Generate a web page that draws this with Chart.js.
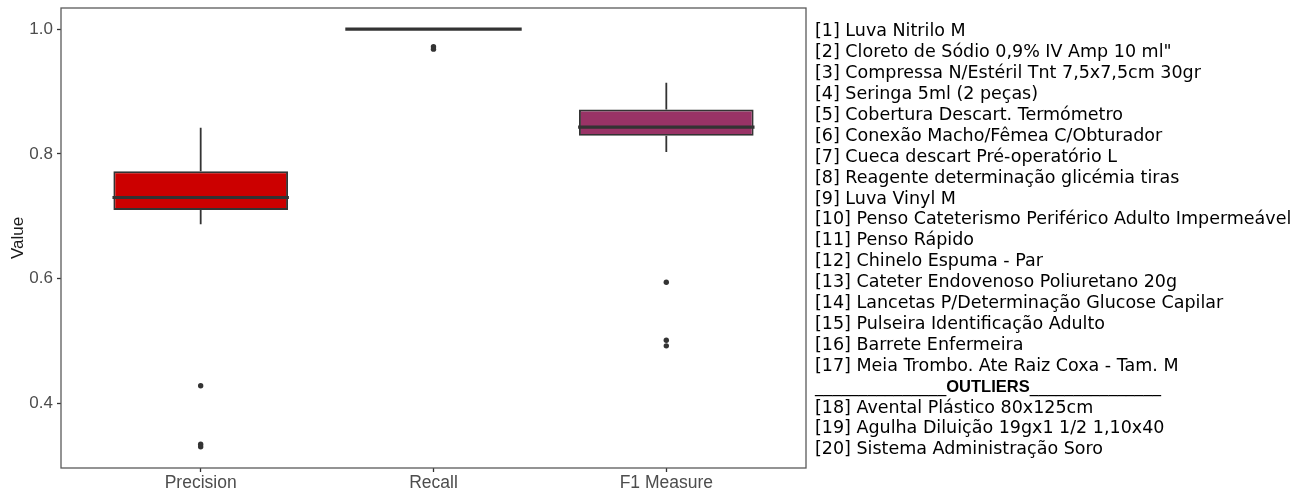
<!DOCTYPE html>
<html>
<head>
<meta charset="utf-8">
<script src="https://cdn.jsdelivr.net/npm/chart.js@4.4.1/dist/chart.umd.min.js"></script>
<style>
  html, body { margin: 0; padding: 0; background: #ffffff; }
  #wrap { width: 1305px; height: 493px; position: relative; }
</style>
</head>
<body>
<div id="wrap"><canvas id="chart"></canvas></div>
<script>
// Box-plot summaries per metric
const categories = ['Precision', 'Recall', 'F1 Measure'];
const whiskerLow = [0.687, 1.0, 0.803];
const q1 = [0.710, 1.0, 0.829];
const median = [0.730, 1.0, 0.843];
const q3 = [0.772, 1.0, 0.871];
const whiskerHigh = [0.842, 1.0, 0.914];
const outliers = [
  [0.428, 0.334, 0.330],
  [0.972, 0.968],
  [0.594, 0.501, 0.492]
];
const boxColors = ['#CC0000', '#2E7D32', '#993366'];
const yTicks = [0.4, 0.6, 0.8, 1.0];

// Item key shown to the right of the panel
const itemLabels = [
  '[1] Luva Nitrilo M',
  '[2] Cloreto de Sódio 0,9% IV Amp 10 ml"',
  '[3] Compressa N/Estéril Tnt 7,5x7,5cm 30gr',
  '[4] Seringa 5ml (2 peças)',
  '[5] Cobertura Descart. Termómetro',
  '[6] Conexão Macho/Fêmea C/Obturador',
  '[7] Cueca descart Pré-operatório L',
  '[8] Reagente determinação glicémia tiras',
  '[9] Luva Vinyl M',
  '[10] Penso Cateterismo Periférico Adulto Impermeável',
  '[11] Penso Rápido',
  '[12] Chinelo Espuma - Par',
  '[13] Cateter Endovenoso Poliuretano 20g',
  '[14] Lancetas P/Determinação Glucose Capilar',
  '[15] Pulseira Identificação Adulto',
  '[16] Barrete Enfermeira',
  '[17] Meia Trombo. Ate Raiz Coxa - Tam. M'
];
const outlierHeading = 'OUTLIERS';
const outlierLabels = [
  '[18] Avental Plástico 80x125cm',
  '[19] Agulha Diluição 19gx1 1/2 1,10x40',
  '[20] Sistema Administração Soro'
];

const INK = '#333333';

// Whiskers under the boxes, medians and the panel frame on top
const boxParts = {
  id: 'boxParts',
  beforeDatasetsDraw(chart) {
    const { ctx, scales: { x, y } } = chart;
    ctx.save();
    ctx.strokeStyle = INK;
    ctx.lineWidth = 1.8;
    categories.forEach((c, i) => {
      const px = x.getPixelForValue(i + 1);
      ctx.beginPath();
      ctx.moveTo(px, y.getPixelForValue(q3[i]));
      ctx.lineTo(px, y.getPixelForValue(whiskerHigh[i]));
      ctx.moveTo(px, y.getPixelForValue(q1[i]));
      ctx.lineTo(px, y.getPixelForValue(whiskerLow[i]));
      ctx.stroke();
    });
    ctx.restore();
  },
  afterDatasetsDraw(chart) {
    const { ctx, scales: { y }, chartArea } = chart;
    const meta = chart.getDatasetMeta(0);
    ctx.save();
    ctx.strokeStyle = INK;
    ctx.lineWidth = 3.2;
    ctx.lineCap = 'butt';
    meta.data.forEach((el, i) => {
      const py = y.getPixelForValue(median[i]);
      ctx.beginPath();
      ctx.moveTo(el.x - el.width / 2 - 0.9, py);
      ctx.lineTo(el.x + el.width / 2 + 0.9, py);
      ctx.stroke();
    });
    ctx.strokeStyle = '#5a5a5a';
    ctx.lineWidth = 1.3;
    ctx.strokeRect(chartArea.left, chartArea.top,
      chartArea.right - chartArea.left, chartArea.bottom - chartArea.top);
    ctx.restore();
  },
  afterDraw(chart) {
    const { ctx } = chart;
    const left = 815;
    const base = 36.3;
    const step = 20.9;
    ctx.save();
    ctx.fillStyle = '#000000';
    ctx.textBaseline = 'alphabetic';
    ctx.textAlign = 'left';
    ctx.font = '17.5px "DejaVu Sans"';
    let row = 0;
    itemLabels.forEach(t => { ctx.fillText(t, left, base + step * row); row++; });
    // section divider
    const yRow = base + step * row;
    const rule = '_______________';
    ctx.fillText(rule, left, yRow);
    const w1 = ctx.measureText(rule).width;
    ctx.font = 'bold 16.5px "Liberation Sans"';
    ctx.fillText(outlierHeading, left + w1, yRow);
    const w2 = ctx.measureText(outlierHeading).width;
    ctx.font = '17.5px "DejaVu Sans"';
    ctx.fillText(rule, left + w1 + w2, yRow);
    row++;
    outlierLabels.forEach(t => { ctx.fillText(t, left, base + step * row); row++; });
    ctx.restore();
  }
};

const boxData = categories.map((c, i) => ({ x: i + 1, y: [q1[i], q3[i]] }));
const pointData = [];
outliers.forEach((vals, i) => vals.forEach(v => pointData.push({ x: i + 1, y: v })));

new Chart(document.getElementById('chart'), {
  type: 'bar',
  data: {
    datasets: [
      {
        type: 'bar',
        data: boxData,
        backgroundColor: boxColors,
        borderColor: INK,
        borderWidth: 1.9,
        borderSkipped: false,
        categoryPercentage: 1,
        barPercentage: 0.75,
        grouped: false,
        order: 2
      },
      {
        type: 'scatter',
        data: pointData,
        pointRadius: 2.7,
        pointBackgroundColor: INK,
        pointBorderWidth: 0,
        showLine: false,
        order: 1
      }
    ]
  },
  plugins: [boxParts],
  options: {
    responsive: true,
    maintainAspectRatio: false,
    animation: false,
    layout: { padding: { top: 8, right: 499, left: 0, bottom: 0 } },
    plugins: { legend: { display: false }, tooltip: { enabled: false } },
    scales: {
      x: {
        type: 'linear',
        offset: false,
        min: 0.4,
        max: 3.6,
        afterBuildTicks: s => { s.ticks = categories.map((c, i) => ({ value: i + 1 })); },
        afterFit: s => { s.height = 25; s.paddingLeft = 0; s.paddingRight = 0; },
        border: { display: false },
        grid: { display: true, offset: false, drawOnChartArea: false, drawTicks: true, tickLength: 4, tickColor: INK, tickWidth: 1.3 },
        ticks: {
          autoSkip: false,
          maxRotation: 0,
          padding: 1,
          color: '#4D4D4D',
          font: { family: '"Liberation Sans", Arial, sans-serif', size: 17.5 },
          callback: (v, idx) => categories[idx]
        }
      },
      y: {
        type: 'linear',
        min: 0.296,
        max: 1.034,
        afterBuildTicks: s => { s.ticks = yTicks.map(v => ({ value: v })); },
        afterFit: s => { s.width = 61; s.paddingTop = 0; s.paddingBottom = 0; },
        border: { display: false },
        grid: { display: true, drawOnChartArea: false, drawTicks: true, tickLength: 4, tickColor: INK, tickWidth: 1.3 },
        ticks: {
          padding: 4,
          color: '#4D4D4D',
          font: { family: '"Liberation Sans", Arial, sans-serif', size: 17 },
          callback: v => Number(v).toFixed(1)
        },
        title: {
          display: true,
          text: 'Value',
          color: '#1a1a1a',
          padding: { top: 8, bottom: 0 },
          font: { family: '"Liberation Sans", Arial, sans-serif', size: 17 }
        }
      }
    }
  }
});
</script>
</body>
</html>
